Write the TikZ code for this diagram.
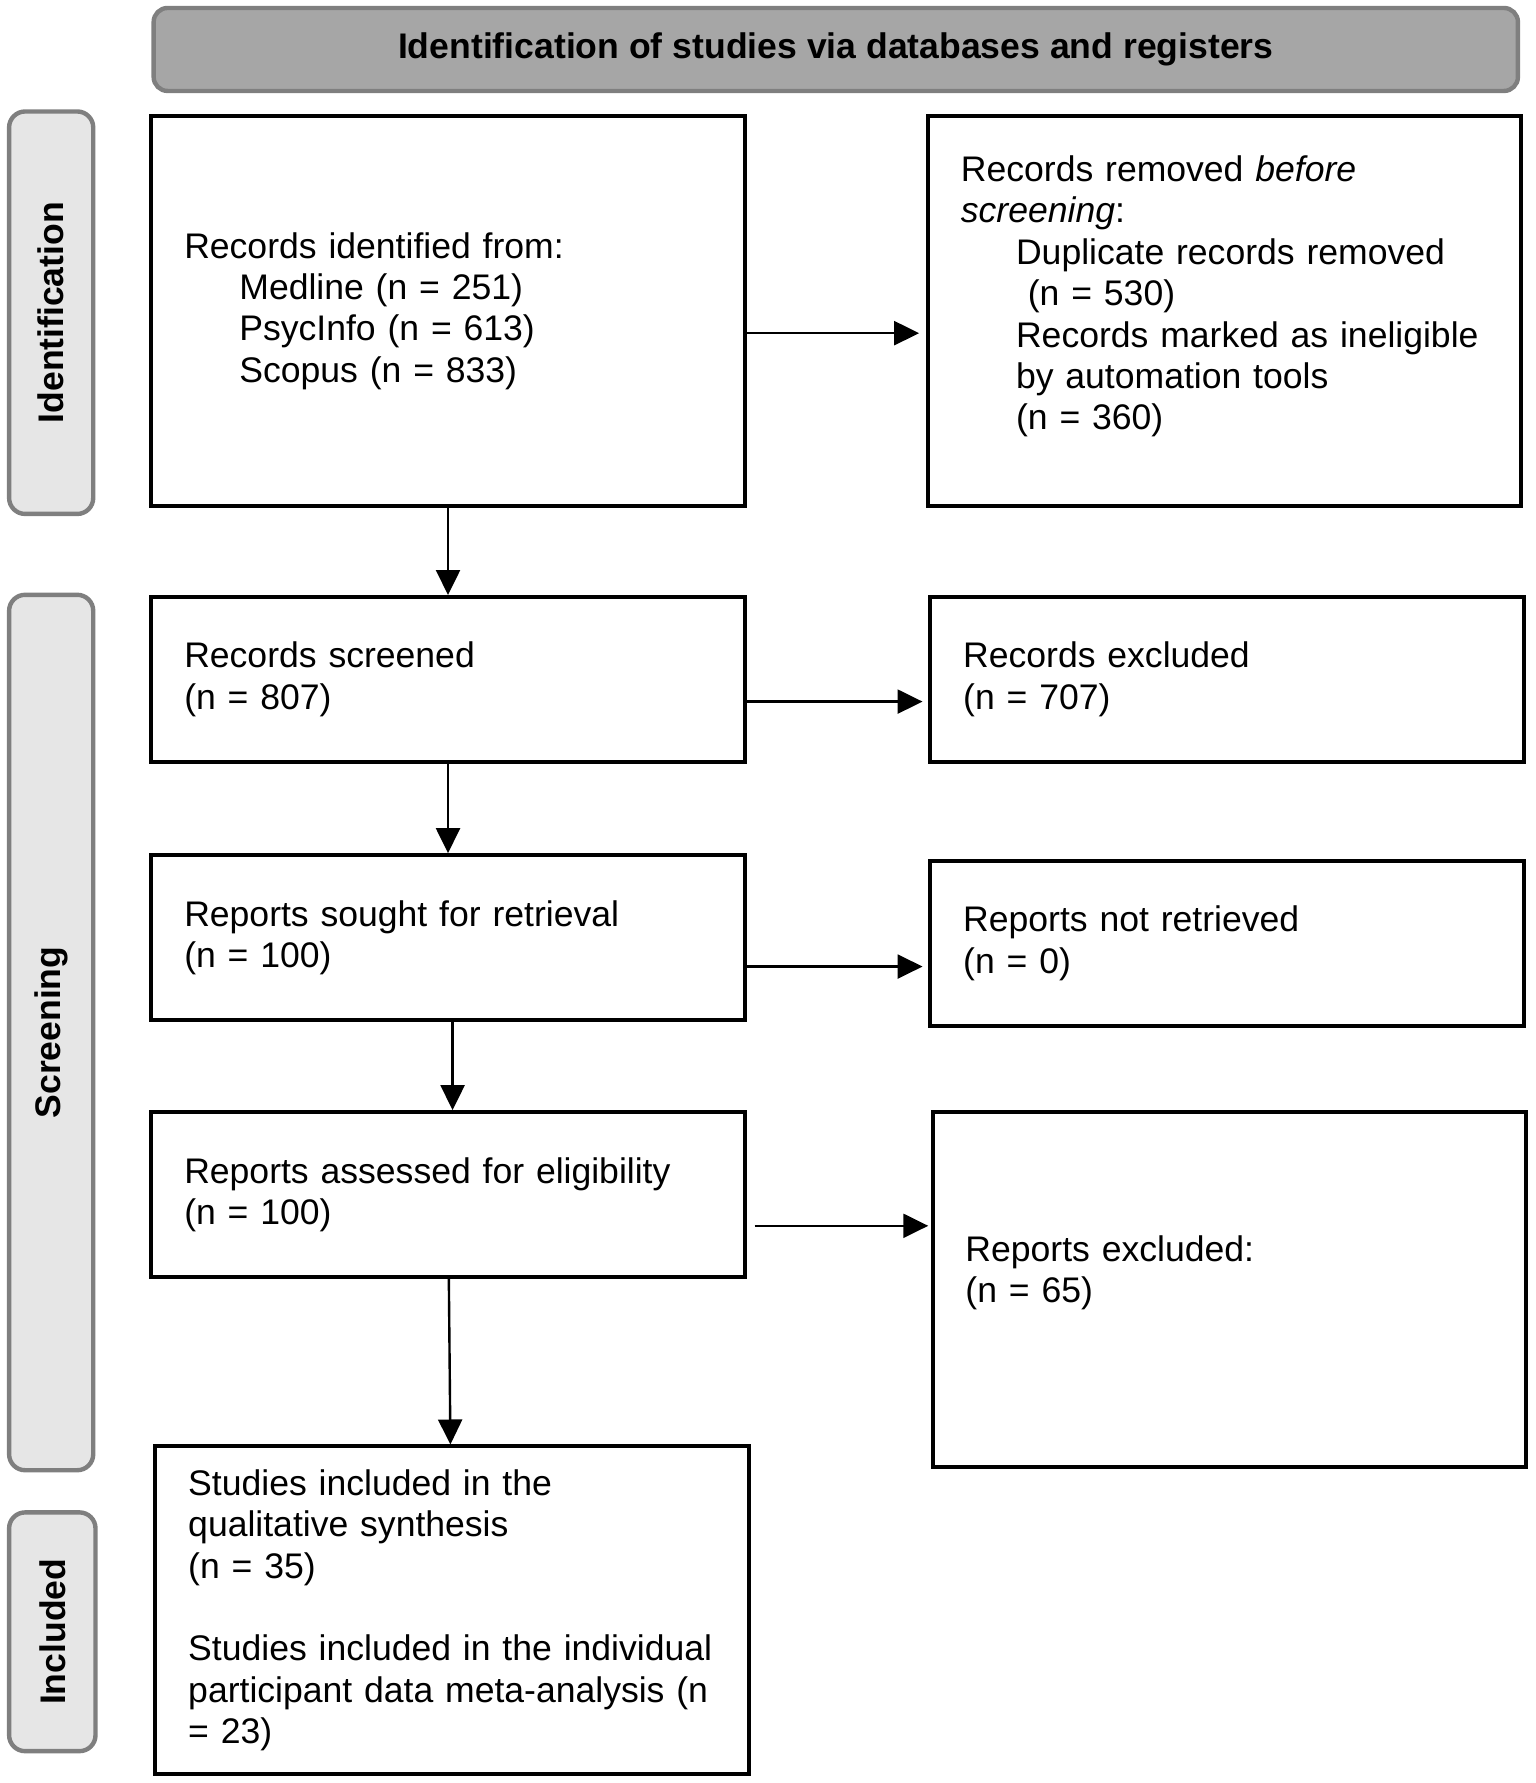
\documentclass[tikz,border=0pt]{standalone}
\usepackage{fontspec}
\setmainfont{Liberation Sans}
\usepackage{tikz}
\usepackage{xcolor}
\usetikzlibrary{arrows.meta}

\definecolor{headfill}{HTML}{A6A6A6}
\definecolor{sidefill}{HTML}{E6E6E6}
\definecolor{frame}{HTML}{7F7F7F}

\tikzset{
  box/.style={draw, line width=2pt, rectangle, minimum width=10.44cm,
    text width=9.28cm, inner xsep=0.58cm, align=left,
    font=\fontsize{17.8}{20.7}\selectfont},
  head/.style={draw=frame, fill=headfill, line width=2.2pt, rounded corners=7pt,
    minimum width=24cm, minimum height=1.46cm,
    font=\fontsize{17.8}{20.7}\selectfont\bfseries},
  side/.style={draw=frame, fill=sidefill, line width=2.2pt, rounded corners=8pt,
    rotate=90, font=\fontsize{17.8}{20.7}\selectfont\bfseries},
  arr/.style={line width=1.2pt, -{Triangle[length=12.5pt,width=12pt]}}
}

\begin{document}
\begin{tikzpicture}[x=0.02cm, y=-0.02cm]

	\useasboundingbox (0,0) rectangle (1350,1568);

	% headings
	\node[head] (top) at (735,43.5) {Identification of studies via databases and registers};
	\node[side, minimum width=7.08cm, minimum height=1.48cm] (identside) at (45,275) {Identification};
	\node[side, minimum width=15.4cm, minimum height=1.48cm] (screenside) at (45,908) {Screening};
	\node[side, minimum width=4.2cm, minimum height=1.52cm] (inclside) at (46,1435) {Included};

	% left column
	\node[box, minimum height=6.86cm] (identified) at (394,273.5) {Records identified from:\\
	    \hspace*{1.55em}Medline (n = 251)\\
	    \hspace*{1.55em}PsycInfo (n = 613)\\
	    \hspace*{1.55em}Scopus (n = 833)};
	\node[box, minimum height=2.9cm] (screened) at (394,597.5) {Records screened\\(n = 807)};
	\node[box, minimum height=2.9cm] (sought) at (394,824.5) {Reports sought for retrieval\\(n = 100)};
	\node[box, minimum height=2.9cm] (assessed) at (394,1050.5) {Reports assessed for eligibility\\(n = 100)};
	\node[box, minimum height=5.76cm] (included) at (397.5,1416) {Studies included in the\\
	    qualitative synthesis\\
	    (n = 35)\\[20.7pt]
	    Studies included in the individual\\
	    participant data meta-analysis (n\\
	    = 23)};

	% right column
	\node[box, minimum height=6.86cm] (removed) at (1077,273.5) {Records removed \emph{before}\\
	    \emph{screening}:\\
	    \hspace*{1.55em}Duplicate records removed\\
	    \hspace*{1.55em} (n = 530)\\
	    \hspace*{1.55em}Records marked as ineligible\\
	    \hspace*{1.55em}by automation tools\\
	    \hspace*{1.55em}(n = 360)\\[-2.5pt]\mbox{}};
	\node[box, minimum height=2.9cm] (excluded) at (1079,597.5) {Records excluded\\(n = 707)};
	\node[box, minimum height=2.9cm] (notretrieved) at (1079,829.5) {Reports not retrieved\\(n = 0)};
	\node[box, minimum height=6.24cm] (repexcluded) at (1081,1134) {Reports excluded:\\(n = 65)\\\mbox{}};

	% down the left
	\draw[arr] (identified) -- (screened);
	\draw[arr] (screened) -- (sought);
	\draw[arr] ([xshift=0.08cm]sought.south) -- ([xshift=0.08cm]assessed.north);
	\draw[arr] (assessed) -- (included);

	% across to the right
	\draw[arr] ([yshift=-0.39cm]identified.east) -- ([yshift=-0.39cm,xshift=-0.12cm]removed.west);
	\draw[arr] ([yshift=-0.39cm]screened.east) -- ([yshift=-0.39cm,xshift=-0.1cm]screened.east -| excluded.west);
	\draw[arr] ([yshift=-0.51cm]sought.east) -- ([yshift=-0.51cm,xshift=-0.1cm]sought.east -| notretrieved.west);
	\draw[arr] ([yshift=-0.55cm,xshift=0.14cm]assessed.east) -- ([yshift=-0.55cm,xshift=-0.04cm]assessed.east -| repexcluded.west);

\end{tikzpicture}
\end{document}
